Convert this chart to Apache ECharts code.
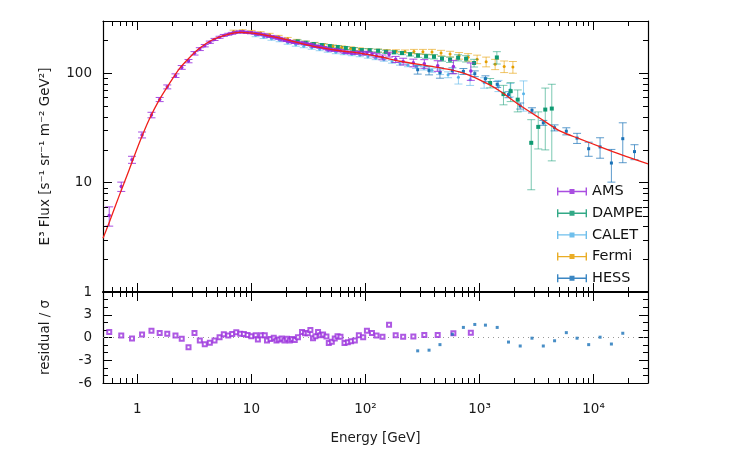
<!DOCTYPE html>
<html>
<head>
<meta charset="utf-8">
<script src="https://cdn.jsdelivr.net/npm/echarts@6/dist/echarts.min.js"></script>
<style>
  html, body { margin: 0; background: #fff; }
  #chart { width: 750px; height: 450px; }
</style>
</head>
<body>
<div id="chart"></div>
<script>
// ---- data (energy in GeV, flux as E^3 F) ----
const amsE = [0.567, 0.723, 0.898, 1.10, 1.33, 1.57, 1.83, 2.16, 2.45, 2.81, 3.17, 3.53, 3.90, 4.32, 4.75, 5.26, 5.73, 6.27, 6.79, 7.37, 7.99, 8.59, 9.26, 9.98, 10.9, 11.4, 12.2, 13.1, 13.7, 14.7, 15.7, 16.6, 17.4, 18.4, 19.5, 20.5, 21.7, 22.7, 24.0, 25.6, 27.8, 29.5, 31.2, 32.9, 34.7, 36.4, 38.4, 40.3, 42.5, 45.5, 47.7, 50.7, 53.8, 56.9, 60.4, 65.5, 70.0, 74.9, 80.7, 87.5, 95.5, 103, 114, 125, 141, 161, 184, 214, 263, 328, 430, 590, 839];
const amsF = [5.0, 9.2, 16.2, 27.3, 41.5, 57.5, 75, 95, 113, 129, 152, 166, 178.5, 192, 203.5, 213, 221.5, 227, 231.5, 236.5, 239, 237.5, 236, 234, 231.5, 227.5, 227.5, 224, 219, 217, 214.5, 210.7, 208.7, 205, 200.8, 199.2, 195.5, 193.7, 190.8, 189, 189.2, 185.8, 183.5, 182.7, 177, 176, 176, 172.5, 171.5, 168.5, 164, 163, 162.6, 162.3, 160.3, 156, 155, 154, 153, 154.5, 151, 153.5, 149.5, 144.6, 139.7, 148, 133.8, 128, 124.4, 122, 117, 115, 105];
const amsErr = [1.0, 0.9, 1.2, 1.7, 2.4, 2.5, 3.1, 3.6, 4.5, 4.5, 5.5, 5, 4.5, 4.5, 4.5, 4.5, 4.5, 4.5, 4.5, 4.6, 4.7, 4.7, 4.7, 4.7, 4.6, 4.6, 4.5, 4.5, 4.4, 4.4, 4.3, 4.3, 4.2, 4.1, 4.1, 4, 4, 3.9, 3.9, 3.8, 3.8, 3.8, 3.7, 3.7, 3.6, 3.6, 3.6, 3.6, 3.6, 3.5, 3.5, 3.5, 3.5, 3.5, 3.6, 3.7, 3.8, 4, 4.2, 4.5, 4.8, 5.2, 5.6, 6.3, 7, 7.5, 8.5, 9, 10, 11, 13, 16, 19];
const amsRes = [0.73, 0.26, -0.13, 0.38, 0.90, 0.60, 0.51, 0.26, -0.17, -1.28, 0.60, -0.38, -0.90, -0.68, -0.38, 0.04, 0.43, 0.26, 0.47, 0.68, 0.51, 0.47, 0.34, 0.17, 0.30, -0.26, 0.30, 0.30, -0.38, -0.21, -0.04, -0.38, -0.26, -0.13, -0.38, -0.17, -0.38, -0.21, -0.34, 0.04, 0.73, 0.56, 0.56, 0.98, -0.09, 0.17, 0.73, 0.30, 0.38, 0.13, -0.73, -0.56, -0.13, 0.17, 0.09, -0.73, -0.64, -0.51, -0.38, 0.30, 0.04, 0.90, 0.60, 0.26, 0.09, 1.67, 0.30, 0.09, 0.13, 0.34, 0.34, 0.56, 0.64];

const dampeE = [25.5, 29.9, 35.2, 41.4, 48.7, 57.2, 67.3, 79.1, 93.0, 109, 129, 151, 178, 209, 246, 289, 340, 399, 469, 552, 649, 762, 896, 1239, 1419, 1622, 1876, 2162, 2841, 3273, 3771, 4301];
const dampeF = [195, 189.7, 184.6, 180.7, 177, 173.7, 170.1, 166.6, 162.7, 162.1, 160.4, 157, 155.4, 152.8, 149, 145, 142.9, 141.4, 135.6, 132.8, 138.5, 135.6, 123.9, 81.4, 139.3, 64.4, 68.5, 57.3, 23.1, 32.3, 46.5, 47.5];
const dampeErr = [6, 6, 5.5, 5.5, 5, 5, 5, 5, 5, 5, 5, 5, 5, 5, 5.5, 5.5, 6, 6.5, 7, 7.5, 9, 9, 10, 8, 18, 13, 13.5, 13, 14.5, 12, 26.6, 31.7];

const caletE = [10.9, 12.8, 15.0, 17.7, 20.8, 24.5, 28.8, 33.8, 39.7, 46.7, 55.0, 64.6, 75.9, 89.3, 105, 123, 145, 171, 201, 236, 277, 326, 383, 451, 530, 653, 827, 1098, 1466, 1858, 2431];
const caletF = [222, 213.8, 206.3, 199.9, 189.7, 181.9, 176.3, 170.8, 165.5, 160.4, 155.4, 152.2, 149, 145.9, 141.4, 137, 132.8, 127.3, 122.1, 118.3, 114.6, 111.1, 106.5, 102.1, 96.9, 91.6, 87.3, 81.9, 76.9, 70.7, 65.0];
const caletErr = [6.5, 6.4, 6.2, 6, 5.7, 5.5, 5.3, 5.1, 5, 4.8, 4.7, 4.6, 4.5, 4.4, 4.2, 4.1, 4, 3.8, 3.7, 3.8, 4, 4.2, 4.5, 5, 6, 12, 10, 9, 9, 10, 20];

const fermiE = [6.98, 8.37, 10.04, 12.04, 14.45, 17.34, 20.8, 24.96, 29.95, 35.93, 43.1, 51.7, 62.0, 74.4, 89.3, 107, 129, 154, 185, 222, 266, 319, 383, 460, 552, 662, 794, 953, 1143, 1371, 1645, 1962];
const fermiF = [240.4, 242.6, 239, 232.5, 224.4, 215.2, 206.3, 197.8, 191.3, 185.8, 180.7, 176.3, 172.6, 169, 165.5, 162.7, 161, 159.4, 158.7, 158, 158, 157, 156.1, 152.8, 149.6, 144.4, 139.9, 134.2, 127.3, 120.8, 115.3, 113.9];
const fermiErr = [7, 7, 7, 7, 7, 6.5, 6, 6, 5.5, 5.5, 5.5, 5, 5, 5, 5, 5, 5, 5, 5, 5, 7, 8, 9, 9, 9, 10, 11, 12, 13, 13, 14, 14];

const hessE = [287, 361, 450, 578, 722, 909, 1127, 1429, 1795, 2274, 2883, 3624, 4550, 5768, 7163, 9057, 11400, 14330, 18030, 22850];
const hessF = [107.6, 106, 101, 105.4, 103.9, 99, 89.1, 79.1, 63.7, 50.2, 45.8, 35.2, 31.7, 29.5, 25.5, 20.4, 21.2, 15.1, 25.2, 19.2];
const hessErr = [9.5, 9.5, 11, 6.5, 6.5, 6, 5.5, 5, 4, 3.2, 2.5, 1.8, 2, 2.2, 2.7, 3, 4.5, 5, 10, 3];
const hessRes = [-1.76, -1.67, -0.94, 0.43, 1.33, 1.72, 1.63, 1.33, -0.60, -1.12, -0.09, -1.12, -0.43, 0.64, -0.09, -0.94, 0.04, -0.86, 0.56];

// model curve
const modelE = [0.5, 0.568, 0.695, 0.85, 1.04, 1.27, 1.56, 1.91, 2.34, 2.86, 3.51, 4.56, 6.05, 7.87, 9.64, 11.8, 17.7, 26.5, 39.7, 59.6, 89.3, 134, 200, 368, 552, 676, 827, 1012, 1239, 1518, 2274, 3413, 5108, 7657, 11480, 17180, 30000];
const modelF = [3.1, 4.35, 7.64, 13.2, 23.0, 37.7, 57.3, 80.2, 110, 138.4, 169, 202, 224, 236.5, 234, 227.5, 209.5, 188.6, 171.8, 160.4, 152.8, 141.4, 128.6, 115.8, 107.6, 102.1, 94.9, 86.4, 77.7, 68.3, 50.6, 38.5, 29.5, 25.0, 21.2, 18.1, 14.8];

// ticks
const xTickValues = [1, 10, 100, 1000, 10000];
const xTickLabels = ['1', '10', '10²', '10³', '10⁴'];
const yTickValues = [1, 10, 100];
const yTickLabels = ['1', '10', '100'];
const xMinor = [0.6, 0.7, 0.8, 0.9, 2, 3, 4, 5, 6, 7, 8, 9, 20, 30, 40, 50, 60, 70, 80, 90, 200, 300, 400, 500, 600, 700, 800, 900, 2000, 3000, 4000, 5000, 6000, 7000, 8000, 9000, 20000];
const yMinor = [2, 3, 4, 5, 6, 7, 8, 9, 20, 30, 40, 50, 60, 70, 80, 90, 200];

const font = 'DejaVu Sans';
const colors = {
  AMS: '#9a2fdc', DAMPE: '#0f9a72', CALET: '#56b4e9', Fermi: '#e69f00', HESS: '#1a72b8', model: '#f0201a'
};

function pickLabel(values, labels) {
  return function (v) {
    for (let i = 0; i < values.length; i++) {
      if (Math.abs(v / values[i] - 1) < 1e-6) return labels[i];
    }
    return '';
  };
}

function errorBars(color, marker, size, barOpacity) {
  return function (params, api) {
    const e = api.value(0), f = api.value(1), d = api.value(2);
    const top = api.coord([e, f + d]);
    const bot = api.coord([e, Math.max(f - d, 0.05)]);
    const mid = api.coord([e, f]);
    const cap = 4;
    const bar = { stroke: color, lineWidth: 1, opacity: barOpacity };
    const kids = [
      { type: 'line', shape: { x1: top[0], y1: top[1], x2: bot[0], y2: bot[1] }, style: bar },
      { type: 'line', shape: { x1: top[0] - cap, y1: top[1], x2: top[0] + cap, y2: top[1] }, style: bar },
      { type: 'line', shape: { x1: bot[0] - cap, y1: bot[1], x2: bot[0] + cap, y2: bot[1] }, style: bar }
    ];
    if (marker === 'rect') {
      kids.push({ type: 'rect', shape: { x: mid[0] - size / 2, y: mid[1] - size / 2, width: size, height: size }, style: { fill: color } });
    } else {
      kids.push({ type: 'circle', shape: { cx: mid[0], cy: mid[1], r: size / 2 }, style: { fill: color } });
    }
    return { type: 'group', children: kids };
  };
}

function zip3(a, b, c) {
  return a.map((v, i) => [v, b[i], c[i]]);
}

// minor ticks on log axes, drawn on both sides of a grid
function minorTicks(gridIdx, dir, values, ref) {
  return {
    type: 'custom', xAxisIndex: gridIdx * 2, yAxisIndex: gridIdx * 2,
    silent: true, z: 10,
    data: values.map(v => dir === 'x' ? [v, ref] : [ref, v]),
    renderItem(params, api) {
      const cs = params.coordSys;
      const style = { stroke: '#000', lineWidth: 1 };
      const p = api.coord([api.value(0), api.value(1)]);
      if (dir === 'x') {
        const x = Math.round(p[0]) + 0.5;
        return { type: 'group', children: [
          { type: 'line', shape: { x1: x, y1: cs.y, x2: x, y2: cs.y + 5 }, style },
          { type: 'line', shape: { x1: x, y1: cs.y + cs.height, x2: x, y2: cs.y + cs.height - 5 }, style }
        ] };
      }
      const y = Math.round(p[1]) + 0.5;
      return { type: 'group', children: [
        { type: 'line', shape: { x1: cs.x, y1: y, x2: cs.x + 5, y2: y }, style },
        { type: 'line', shape: { x1: cs.x + cs.width, y1: y, x2: cs.x + cs.width - 5, y2: y }, style }
      ] };
    }
  };
}

const axisLine = { show: true, onZero: false, lineStyle: { color: '#000', width: 1.2 } };
const axisTick = { show: true, inside: true, length: 9, lineStyle: { color: '#000' } };
const labelStyle = { fontFamily: font, fontSize: 13.5, color: '#1a1a1a' };
const nameStyle = { fontFamily: font, fontSize: 13.5, color: '#1a1a1a' };

const xBase = {
  type: 'log', logBase: 10, min: 0.5, max: 30000,
  axisLine, axisTick, axisLabel: { show: false }, splitLine: { show: false }
};
const yMainBase = {
  type: 'log', logBase: 10, min: 1, max: 300,
  axisLine, axisTick, axisLabel: { show: false }, splitLine: { show: false }
};
const yResBase = {
  type: 'value', min: -6, max: 6, interval: 3,
  axisLine, axisTick,
  minorTick: { show: true, splitNumber: 3, length: 5, lineStyle: { color: '#000' } },
  axisLabel: { show: false }, splitLine: { show: false }
};

const legendIcon = 'path://M0,4.3H30V5.7H0Z M0,1H1.4V9H0Z M28.6,1H30V9H28.6Z M12.5,2.5H17.5V7.5H12.5Z';
const names = ['AMS', 'DAMPE', 'CALET', 'Fermi', 'HESS'];

const chart = echarts.init(document.getElementById('chart'));
chart.setOption({
  animation: false,
  backgroundColor: '#fff',
  textStyle: { fontFamily: font },
  grid: [
    { left: 103, right: 102, top: 21, height: 271 },
    { left: 103, right: 102, top: 292, height: 91 }
  ],
  legend: {
    orient: 'vertical', left: 557, top: 184, padding: 0, itemGap: 6.7,
    itemWidth: 30, itemHeight: 10,
    textStyle: { fontFamily: font, fontSize: 14.5, color: '#111' },
    data: names.map(n => ({ name: n, icon: legendIcon, itemStyle: { color: colors[n], opacity: 0.85 } }))
  },
  xAxis: [
    { ...xBase, gridIndex: 0, position: 'bottom' },
    { ...xBase, gridIndex: 0, position: 'top' },
    {
      ...xBase, gridIndex: 1, position: 'bottom',
      axisLabel: { show: true, margin: 19, formatter: pickLabel(xTickValues, xTickLabels), ...labelStyle },
      name: 'Energy [GeV]', nameLocation: 'middle', nameGap: 48, nameTextStyle: nameStyle
    },
    { ...xBase, gridIndex: 1, position: 'top', axisLine: { ...axisLine, lineStyle: { color: '#000', width: 2 } } }
  ],
  yAxis: [
    {
      ...yMainBase, gridIndex: 0, position: 'left',
      axisLabel: { show: true, margin: 11, formatter: pickLabel(yTickValues, yTickLabels), ...labelStyle },
      name: 'E³ Flux [s⁻¹ sr⁻¹ m⁻² GeV²]', nameLocation: 'middle', nameGap: 51, nameRotate: 90,
      nameTextStyle: nameStyle
    },
    { ...yMainBase, gridIndex: 0, position: 'right' },
    {
      ...yResBase, gridIndex: 1, position: 'left',
      axisLabel: { show: true, margin: 11, formatter: v => (v === 6 ? '' : String(v)), ...labelStyle },
      name: 'residual / σ', nameLocation: 'middle', nameGap: 51, nameRotate: 90,
      nameTextStyle: nameStyle
    },
    { ...yResBase, gridIndex: 1, position: 'right' }
  ],
  series: [
    minorTicks(0, 'x', xMinor, 10),
    minorTicks(0, 'y', yMinor, 1),
    minorTicks(1, 'x', xMinor, 0),
    {
      name: 'Fermi', type: 'custom', xAxisIndex: 0, yAxisIndex: 0, clip: true, z: 2,
      itemStyle: { color: colors.Fermi },
      renderItem: errorBars(colors.Fermi, 'circle', 3, 0.6),
      data: zip3(fermiE, fermiF, fermiErr)
    },
    {
      name: 'CALET', type: 'custom', xAxisIndex: 0, yAxisIndex: 0, clip: true, z: 3,
      itemStyle: { color: colors.CALET },
      renderItem: errorBars(colors.CALET, 'circle', 3, 0.6),
      data: zip3(caletE, caletF, caletErr)
    },
    {
      name: 'HESS', type: 'custom', xAxisIndex: 0, yAxisIndex: 0, clip: true, z: 4,
      itemStyle: { color: colors.HESS },
      renderItem: errorBars(colors.HESS, 'rect', 3, 0.7),
      data: zip3(hessE, hessF, hessErr)
    },
    {
      name: 'DAMPE', type: 'custom', xAxisIndex: 0, yAxisIndex: 0, clip: true, z: 5,
      itemStyle: { color: colors.DAMPE },
      renderItem: errorBars(colors.DAMPE, 'rect', 4, 0.55),
      data: zip3(dampeE, dampeF, dampeErr)
    },
    {
      name: 'AMS', type: 'custom', xAxisIndex: 0, yAxisIndex: 0, clip: true, z: 6,
      itemStyle: { color: colors.AMS },
      renderItem: errorBars(colors.AMS, 'circle', 3.5, 0.85),
      data: zip3(amsE, amsF, amsErr)
    },
    {
      name: 'model', type: 'line', xAxisIndex: 0, yAxisIndex: 0, z: 8,
      showSymbol: false, smooth: 0.3, silent: true,
      lineStyle: { color: colors.model, width: 1.3 },
      data: modelE.map((e, i) => [e, modelF[i]])
    },
    {
      name: 'AMS', type: 'scatter', xAxisIndex: 2, yAxisIndex: 2, z: 6,
      symbol: 'emptyRect', symbolSize: 4,
      itemStyle: { color: colors.AMS, borderColor: colors.AMS, borderWidth: 1 },
      data: amsE.map((e, i) => [e, amsRes[i]]),
      markLine: {
        silent: true, symbol: 'none', label: { show: false },
        lineStyle: { color: '#999', type: [1, 4], width: 1 },
        data: [{ yAxis: 0 }]
      }
    },
    {
      name: 'HESS', type: 'scatter', xAxisIndex: 2, yAxisIndex: 2, z: 6,
      symbol: 'rect', symbolSize: 3,
      itemStyle: { color: colors.HESS },
      data: hessRes.map((r, i) => [hessE[i], r])
    }
  ]
});
</script>
</body>
</html>
